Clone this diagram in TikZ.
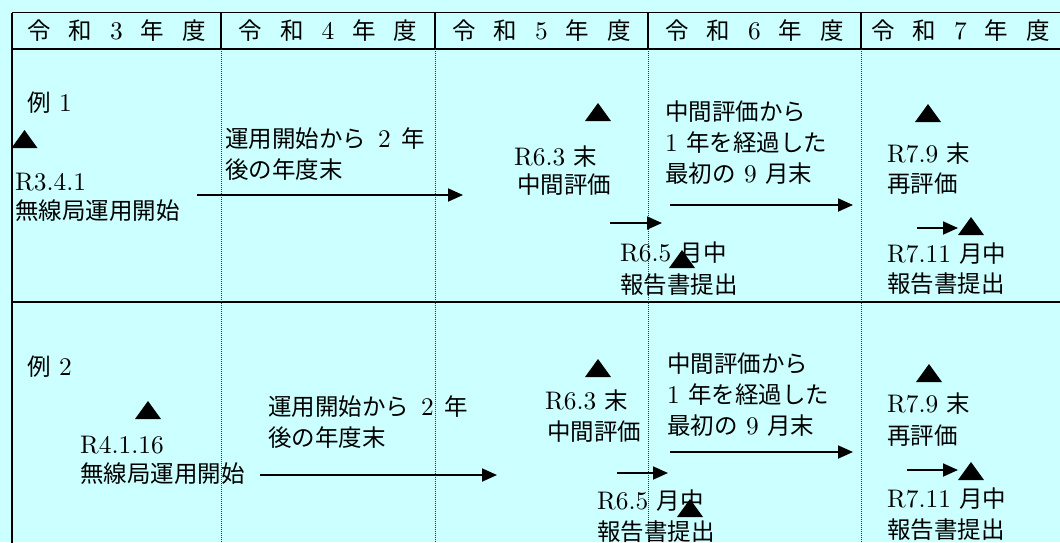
\documentclass[tikz,border=0pt]{standalone}
\usepackage{fontspec}
\setmainfont{lmroman10-regular.otf}[Scale=1.08]
\newfontfamily\jp{Noto Sans CJK JP}
\usetikzlibrary{arrows.meta}
\definecolor{bgcyan}{RGB}{204,255,255}
\definecolor{dotgray}{RGB}{50,50,50}
\newcommand\hdryear[1]{{\jp 令}\hspace{18pt}{\jp 和}\hspace{18pt}#1\hspace{18pt}{\jp 年}\hspace{18pt}{\jp 度}}
\begin{document}
\begin{tikzpicture}[x=1pt,y=-1pt,
  txt/.style={anchor=west,inner sep=0pt,font=\fontsize{23.5}{31}\selectfont,text height=20.7pt,text depth=2.8pt},
  hdr/.style={anchor=center,inner sep=0pt,font=\fontsize{23.5}{31}\selectfont,text height=20.7pt,text depth=2.8pt},
  frame/.style={line width=1.6pt,black},
  dotline/.style={line width=0.9pt,dotgray,dash pattern=on 1pt off 1pt},
  arr/.style={line width=1.8pt,-{Triangle[length=15pt,width=13pt]}},
  tri/.pic={\fill[black] (-13,9) -- (13,9) -- (0,-9) -- cycle;}
]
\useasboundingbox (0,0) rectangle (1060,542);
\fill[bgcyan] (0,0) rectangle (1060,542);
\clip (0,0) rectangle (1060,542);

% table frame
\coordinate (tl) at (12,12.5);
\coordinate (tr) at (1061,12.5);
\coordinate (hl) at (12,49);
\coordinate (hr) at (1061,49);
\coordinate (sl) at (12,302);
\coordinate (sr) at (1061,302);
\coordinate (bl) at (12,543);
\draw[frame] (tl) -- (tr);
\draw[frame] (hl) -- (hr);
\draw[frame] (sl) -- (sr);
\draw[frame] (tl) -- (bl);
\foreach \cx/\nm in {221/a,435/b,648/c,861/d}{
  \coordinate (top\nm) at (\cx,12.5);
  \coordinate (mid\nm) at (\cx,49);
  \coordinate (bot\nm) at (\cx,543);
  \draw[frame] (top\nm) -- (mid\nm);
  \draw[dotline] (mid\nm) -- (bot\nm);
}

% header
\node[hdr] (h3) at (116.5,31) {\hdryear{3}};
\node[hdr] (h4) at (328,31) {\hdryear{4}};
\node[hdr] (h5) at (541.5,31) {\hdryear{5}};
\node[hdr] (h6) at (754.5,31) {\hdryear{6}};
\node[hdr] (h7) at (960.5,31) {\hdryear{7}};

% ---------- example 1 ----------
\node[txt] (e1) at (27,103) {{\jp 例} 1};
\pic at (24.5,139) {tri};
\node[txt] (s1a) at (15,182) {R3.4.1};
\node[txt] (s1b) at (15,211) {\jp 無線局運用開始};
\node[txt] (p1a) at (225,139) {{\jp 運用開始から}\hspace{12pt}2\hspace{11pt}{\jp 年}};
\node[txt] (p1b) at (225,170) {\jp 後の年度末};
\pic at (598,112) {tri};
\node[txt] (m1a) at (514,157) {R6.3 {\jp 末}};
\node[txt] (m1b) at (517,185) {\jp 中間評価};
\node[txt] (q1a) at (665,112) {\jp 中間評価から};
\node[txt] (q1b) at (665,143) {1 {\jp 年を経過した}};
\node[txt] (q1c) at (665,174) {{\jp 最初の} 9 {\jp 月末}};
\node[txt] (r1a) at (620,253) {R6.5 {\jp 月中}};
\node[txt] (r1b) at (620,285) {\jp 報告書提出};
\pic at (682,259) {tri};
\pic at (928,113) {tri};
\node[txt] (v1a) at (887,154) {R7.9 {\jp 末}};
\node[txt] (v1b) at (887,184) {\jp 再評価};
\pic at (971,226) {tri};
\node[txt] (w1a) at (887,254) {R7.11 {\jp 月中}};
\node[txt] (w1b) at (887,284) {\jp 報告書提出};

\coordinate (a1s) at (197,195); \coordinate (a1e) at (463,195);
\coordinate (a2s) at (610,223); \coordinate (a2e) at (662,223);
\coordinate (a3s) at (670,205); \coordinate (a3e) at (853,205);
\coordinate (a4s) at (917,228); \coordinate (a4e) at (958,228);
\draw[arr] (a1s) -- (a1e);
\draw[arr] (a2s) -- (a2e);
\draw[arr] (a3s) -- (a3e);
\draw[arr] (a4s) -- (a4e);

% ---------- example 2 ----------
\node[txt] (e2) at (27,367) {{\jp 例} 2};
\pic at (148,410) {tri};
\node[txt] (s2a) at (80,445) {R4.1.16};
\node[txt] (s2b) at (80,474) {\jp 無線局運用開始};
\node[txt] (p2a) at (268,407) {{\jp 運用開始から}\hspace{12pt}2\hspace{11pt}{\jp 年}};
\node[txt] (p2b) at (268,438) {\jp 後の年度末};
\pic at (598,368) {tri};
\node[txt] (m2a) at (545,401) {R6.3 {\jp 末}};
\node[txt] (m2b) at (547,432) {\jp 中間評価};
\node[txt] (q2a) at (667,364) {\jp 中間評価から};
\node[txt] (q2b) at (667,395) {1 {\jp 年を経過した}};
\node[txt] (q2c) at (667,426) {{\jp 最初の} 9 {\jp 月末}};
\node[txt] (r2a) at (597,501) {R6.5 {\jp 月中}};
\node[txt] (r2b) at (597,532) {\jp 報告書提出};
\pic at (690,508) {tri};
\pic at (929,373) {tri};
\node[txt] (v2a) at (887,404) {R7.9 {\jp 末}};
\node[txt] (v2b) at (887,436) {\jp 再評価};
\pic at (971,471) {tri};
\node[txt] (w2a) at (887,499) {R7.11 {\jp 月中}};
\node[txt] (w2b) at (887,530) {\jp 報告書提出};

\coordinate (b1s) at (260,475); \coordinate (b1e) at (497,475);
\coordinate (b2s) at (617,473); \coordinate (b2e) at (668,473);
\coordinate (b3s) at (670,452); \coordinate (b3e) at (853,452);
\coordinate (b4s) at (907,470); \coordinate (b4e) at (958,470);
\draw[arr] (b1s) -- (b1e);
\draw[arr] (b2s) -- (b2e);
\draw[arr] (b3s) -- (b3e);
\draw[arr] (b4s) -- (b4e);
\end{tikzpicture}
\end{document}
